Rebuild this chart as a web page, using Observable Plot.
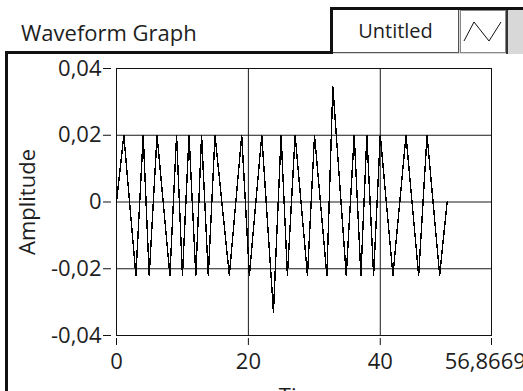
<!DOCTYPE html>
<html>
<head>
<meta charset="utf-8">
<script src="https://cdn.jsdelivr.net/npm/d3@7"></script>
<script src="https://cdn.jsdelivr.net/npm/@observablehq/plot@0.6"></script>
<style>
  html, body { margin: 0; padding: 0; background: #fff; overflow: hidden; }
  #wrap { position: relative; width: 523px; height: 391px; overflow: hidden; font-family: 'Open Sans', sans-serif; color: #1e1e1e; }
  #chart { position: absolute; left: 0; top: 0; }
  #title { position: absolute; left: 21px; top: 17px; font-size: 22px; line-height: 30px; white-space: nowrap; }
  #frame { position: absolute; left: 5px; top: 51px; width: 600px; height: 400px; border-left: 3px solid #111; border-top: 3px solid #111; }
  #legend { position: absolute; left: 330px; top: 7px; width: 200px; height: 44px; border-left: 3px solid #111; border-top: 3px solid #111; background: #d8d8d8; }
  #legname { position: absolute; left: 0; top: 0; width: 125px; height: 42px; border: 1px solid #555; border-top: none; border-left: none; background: #fff; font-size: 20px; line-height: 42px; text-align: center; box-sizing: content-box; }
  #legicon { position: absolute; left: 127px; top: 0; width: 44px; height: 41px; border: 1px solid #888; background: #fff; }
  #legsep { position: absolute; left: 173px; top: 0; width: 2px; height: 44px; background: #333; }
</style>
</head>
<body>
<div id="wrap">
  <div id="frame"></div>
  <div id="chart"></div>
  <div id="title">Waveform Graph</div>
  <div id="legend">
    <div id="legname">Untitled</div>
    <div id="legicon"><svg width="44" height="41"><polyline points="3,30 13,11 28,30 40,11" fill="none" stroke="#111" stroke-width="1"/></svg></div>
    <div id="legsep"></div>
  </div>
</div>
<script>
// Time (x) and amplitude (y) of the waveform's turning points
const times = [0, 1.11, 2.94, 4.05, 4.96, 6.15, 8.10, 9.11, 10.0, 11.0, 12.03, 12.9, 13.92, 14.94,
  17.11, 18.99, 20.15, 22.03, 23.80, 24.96, 25.92, 27.09, 28.96, 30.03, 31.90, 32.81, 34.84,
  36.05, 37.06, 37.97, 38.99, 40.0, 41.92, 43.90, 45.82, 47.09, 49.01, 50.13];
const amplitudes = [0, 0.02, -0.022, 0.02, -0.022, 0.02, -0.022, 0.02, -0.022, 0.02, -0.022, 0.02, -0.022, 0.02,
  -0.022, 0.02, -0.022, 0.02, -0.033, 0.02, -0.022, 0.02, -0.022, 0.02, -0.022, 0.0345, -0.022,
  0.02, -0.022, 0.02, -0.022, 0.02, -0.022, 0.02, -0.022, 0.02, -0.022, 0];

const yTicks = [-0.04, -0.02, 0, 0.02, 0.04];
const yTickLabels = ["-0,04", "-0,02", "0", "0,02", "0,04"];
const xTicks = [0, 20, 40, 56.86695];
const xTickLabels = ["0", "20", "40", "56,86695"];
const xGrid = [20, 40];
const yGrid = [-0.02, 0, 0.02];
const yLabel = "Amplitude";
const xLabel = "Time";

const data = times.map((t, i) => ({t, a: amplitudes[i]}));
const yFmt = new Map(yTicks.map((d, i) => [d, yTickLabels[i]]));
const xFmt = new Map(xTicks.map((d, i) => [d, xTickLabels[i]]));

const chart = Plot.plot({
  width: 523,
  height: 391,
  marginLeft: 116,
  marginRight: 32,
  marginTop: 68,
  marginBottom: 56,
  x: {domain: [0, 56.86695]},
  y: {domain: [-0.04, 0.04]},
  style: {fontFamily: "'Open Sans', sans-serif", fontSize: "22px", color: "#1e1e1e", background: "transparent", overflow: "visible"},
  marks: [
    Plot.gridX(xGrid, {stroke: "#1a1a1a", strokeOpacity: 1}),
    Plot.gridY(yGrid, {stroke: "#1a1a1a", strokeOpacity: 1}),
    Plot.frame({stroke: "#111"}),
    Plot.line(data, {x: "t", y: "a", stroke: "#000", strokeWidth: 1.4, shapeRendering: "crispEdges"}),
    Plot.axisY(yTicks, {tickSize: 8, dx: -5, tickPadding: 2, tickFormat: d => yFmt.get(d), label: null, stroke: "#111"}),
    Plot.axisX(xTicks, {tickSize: 7, dy: 3, tickPadding: 8, tickFormat: d => xFmt.get(d), label: null, stroke: "#111"}),
    Plot.text([yLabel], {text: d => d, frameAnchor: "left", rotate: -90, dx: -89, lineAnchor: "middle", textAnchor: "middle", fill: "#1e1e1e"}),
    Plot.text([xLabel], {text: d => d, frameAnchor: "bottom", dy: 53, lineAnchor: "top", fill: "#1e1e1e"})
  ]
});
document.getElementById("chart").appendChild(chart);
</script>
</body>
</html>
